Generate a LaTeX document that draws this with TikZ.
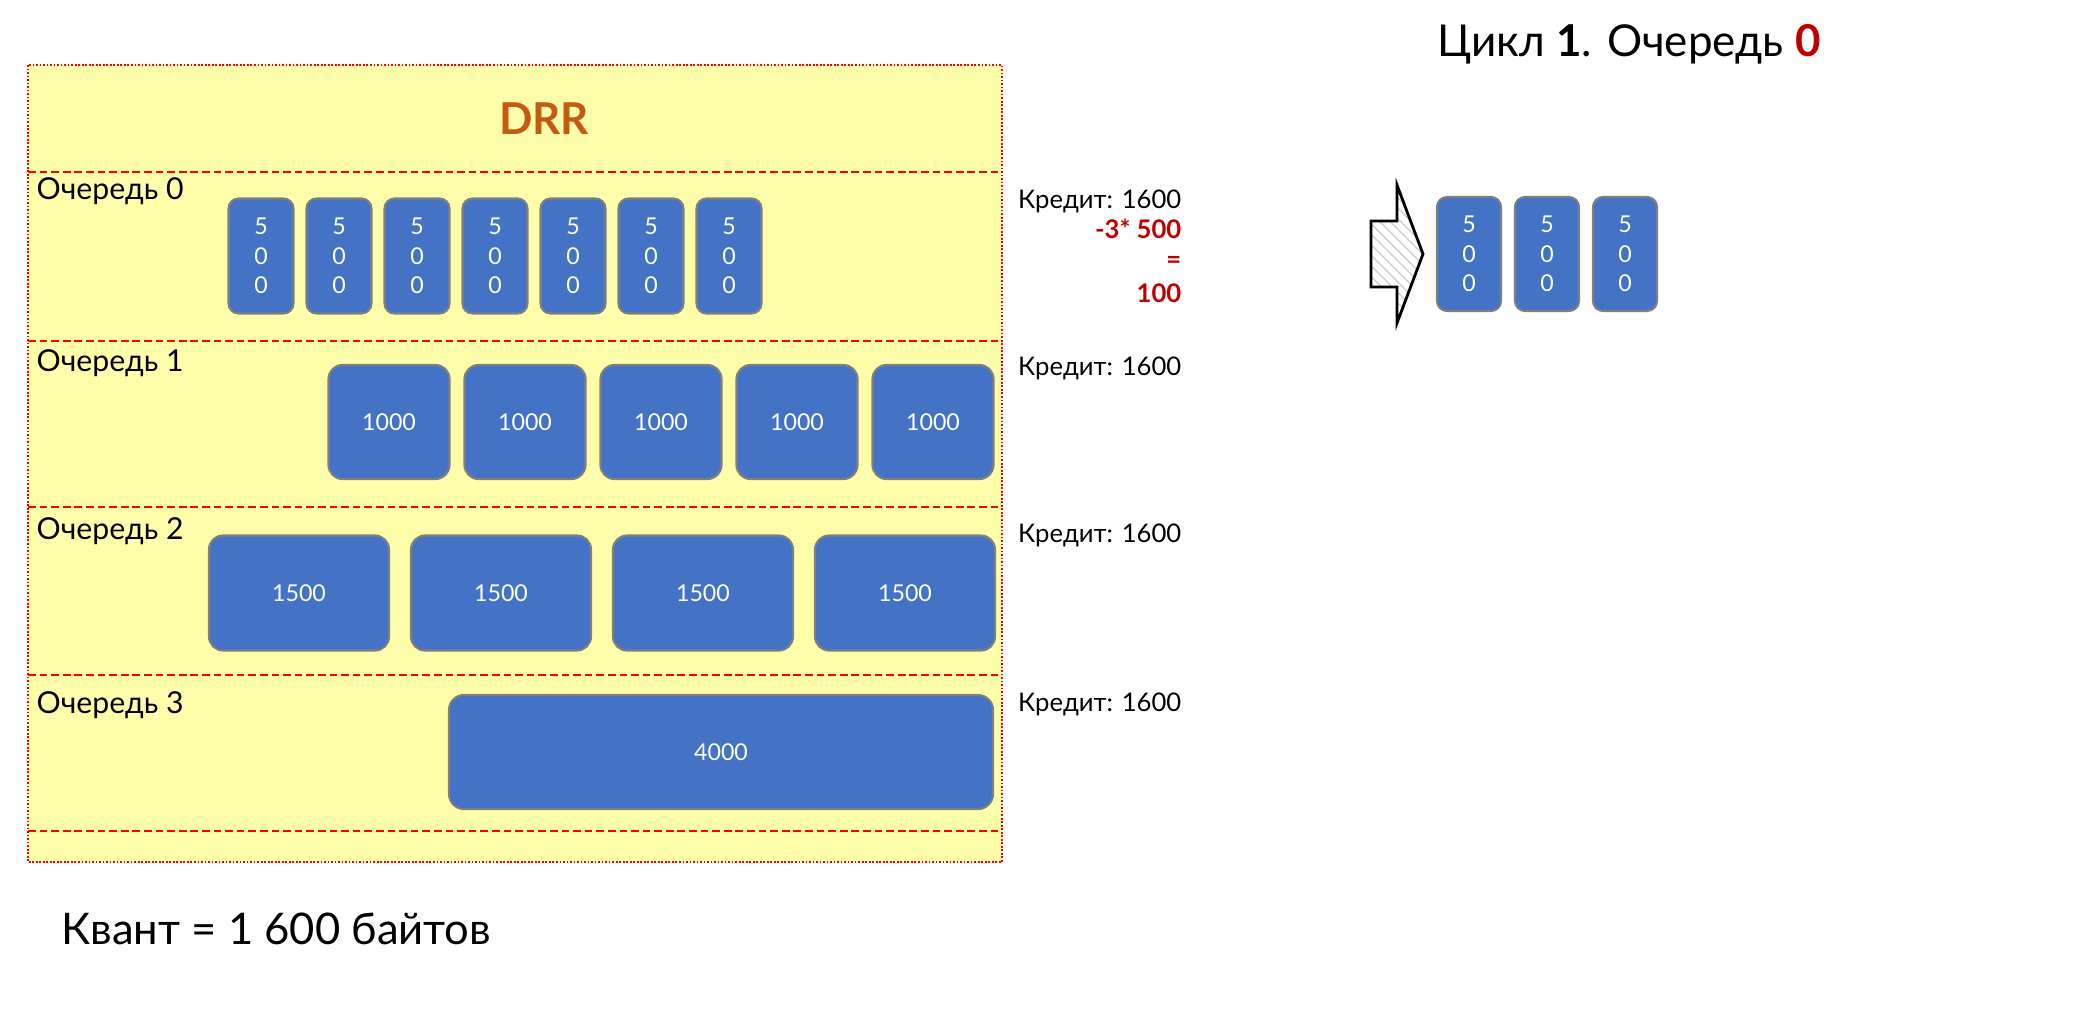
\documentclass[tikz,border=0pt]{standalone}
\usepackage{fontspec}
\setmainfont{Lato}
\usetikzlibrary{positioning,patterns}
\definecolor{pktblue}{HTML}{4472C4}
\definecolor{pktline}{HTML}{7F7F7F}
\definecolor{qyellow}{HTML}{FFFFAB}
\definecolor{drrorange}{HTML}{C55A11}
\definecolor{darkred}{HTML}{C00000}

\begin{document}
\begin{tikzpicture}[x=0.1mm,y=-0.1mm,
        pkt/.style={rectangle,rounded corners=1mm,draw=pktline,line width=0.6pt,fill=pktblue,
            text=white,inner sep=0pt,outer sep=0pt,font=\fontsize{6.6}{8.4}\selectfont},
        small pkt/.style={pkt,minimum width=6.5mm,minimum height=11.5mm,align=center},
        mid pkt/.style={pkt,rounded corners=1.4mm,minimum width=12.1mm,minimum height=11.4mm},
        wide pkt/.style={pkt,rounded corners=1.4mm,minimum width=18mm,minimum height=11.5mm},
        divider/.style={red,line width=0.6pt,dash pattern=on 2.2pt off 1.1pt},
        queue label/.style={anchor=west,inner sep=0pt,font=\fontsize{8.6}{9}\selectfont},
        credit/.style={anchor=east,align=right,inner sep=0pt,font=\fontsize{7.3}{8.6}\selectfont}]
        \useasboundingbox (0,0) rectangle (2096,1014);

        % scheduler frame
        \fill[qyellow] (28,65) rectangle (1002,862);
        \draw[red,line width=0.4pt,dash pattern=on 0.5pt off 0.5pt] (28,65) rectangle (1002,862);
        \draw[divider] (28,172) -- (1002,172);
        \draw[divider] (28,341) -- (1002,341);
        \draw[divider] (28,507) -- (1002,507);
        \draw[divider] (28,675) -- (1002,675);
        \draw[divider] (28,831) -- (1002,831);
        \node[font=\bfseries\fontsize{12.5}{15}\selectfont,text=drrorange] (drr) at (544,119) {DRR};

        \node[queue label] (q0) at (36,191) {Очередь 0};
        \node[queue label] (q1) at (36,363) {Очередь 1};
        \node[queue label] (q2) at (36,531) {Очередь 2};
        \node[queue label] (q3) at (36,705) {Очередь 3};

        % queue 0
        \node[small pkt] (p0a) at (261,256) {5\\0\\0};
        \node[small pkt] (p0b) [right=1.3mm of p0a] {5\\0\\0};
        \node[small pkt] (p0c) [right=1.3mm of p0b] {5\\0\\0};
        \node[small pkt] (p0d) [right=1.3mm of p0c] {5\\0\\0};
        \node[small pkt] (p0e) [right=1.3mm of p0d] {5\\0\\0};
        \node[small pkt] (p0f) [right=1.3mm of p0e] {5\\0\\0};
        \node[small pkt] (p0g) [right=1.3mm of p0f] {5\\0\\0};

        % queue 1
        \node[mid pkt] (p1a) at (389,422) {1000};
        \node[mid pkt] (p1b) [right=1.5mm of p1a] {1000};
        \node[mid pkt] (p1c) [right=1.5mm of p1b] {1000};
        \node[mid pkt] (p1d) [right=1.5mm of p1c] {1000};
        \node[mid pkt] (p1e) [right=1.5mm of p1d] {1000};

        % queue 2
        \node[wide pkt] (p2a) at (299,593) {1500};
        \node[wide pkt] (p2b) [right=2.2mm of p2a] {1500};
        \node[wide pkt] (p2c) [right=2.2mm of p2b] {1500};
        \node[wide pkt] (p2d) [right=2.2mm of p2c] {1500};

        % queue 3
        \node[pkt,rounded corners=1.5mm,minimum width=54.4mm,minimum height=11.4mm] (p3a) at (721,752) {4000};

        % credits
        \node[credit,anchor=north east] (c0) at (1182,189) {Кредит: 1600\\
            \textcolor{darkred}{\bfseries -3* 500}\\
            \textcolor{darkred}{\bfseries =}\\[1pt]
            \textcolor{darkred}{\bfseries 100}};
        \node[credit] (c1) at (1182,368) {Кредит: 1600};
        \node[credit] (c2) at (1182,535) {Кредит: 1600};
        \node[credit] (c3) at (1182,704) {Кредит: 1600};

        % output
        \node[font=\fontsize{12.5}{15}\selectfont] (title) at (1629,44)
            {Цикл \textbf{1}. Очередь \textcolor{darkred}{\textbf{0}}};
        \draw[line width=0.8pt,pattern=north west lines,pattern color=black!18]
            (1371,221) -- (1397,221) -- (1397,185) -- (1423,254) -- (1397,323)
            -- (1397,287) -- (1371,287) -- cycle;
        \node[small pkt,minimum width=6.4mm,minimum height=11.4mm] (o1) at (1469,254) {5\\0\\0};
        \node[small pkt,minimum width=6.4mm,minimum height=11.4mm] (o2) [right=1.4mm of o1] {5\\0\\0};
        \node[small pkt,minimum width=6.4mm,minimum height=11.4mm] (o3) [right=1.4mm of o2] {5\\0\\0};

        \node[anchor=west,inner sep=0pt,font=\fontsize{12.4}{15}\selectfont] (quant) at (61,929)
            {Квант = 1 600 байтов};
\end{tikzpicture}
\end{document}
